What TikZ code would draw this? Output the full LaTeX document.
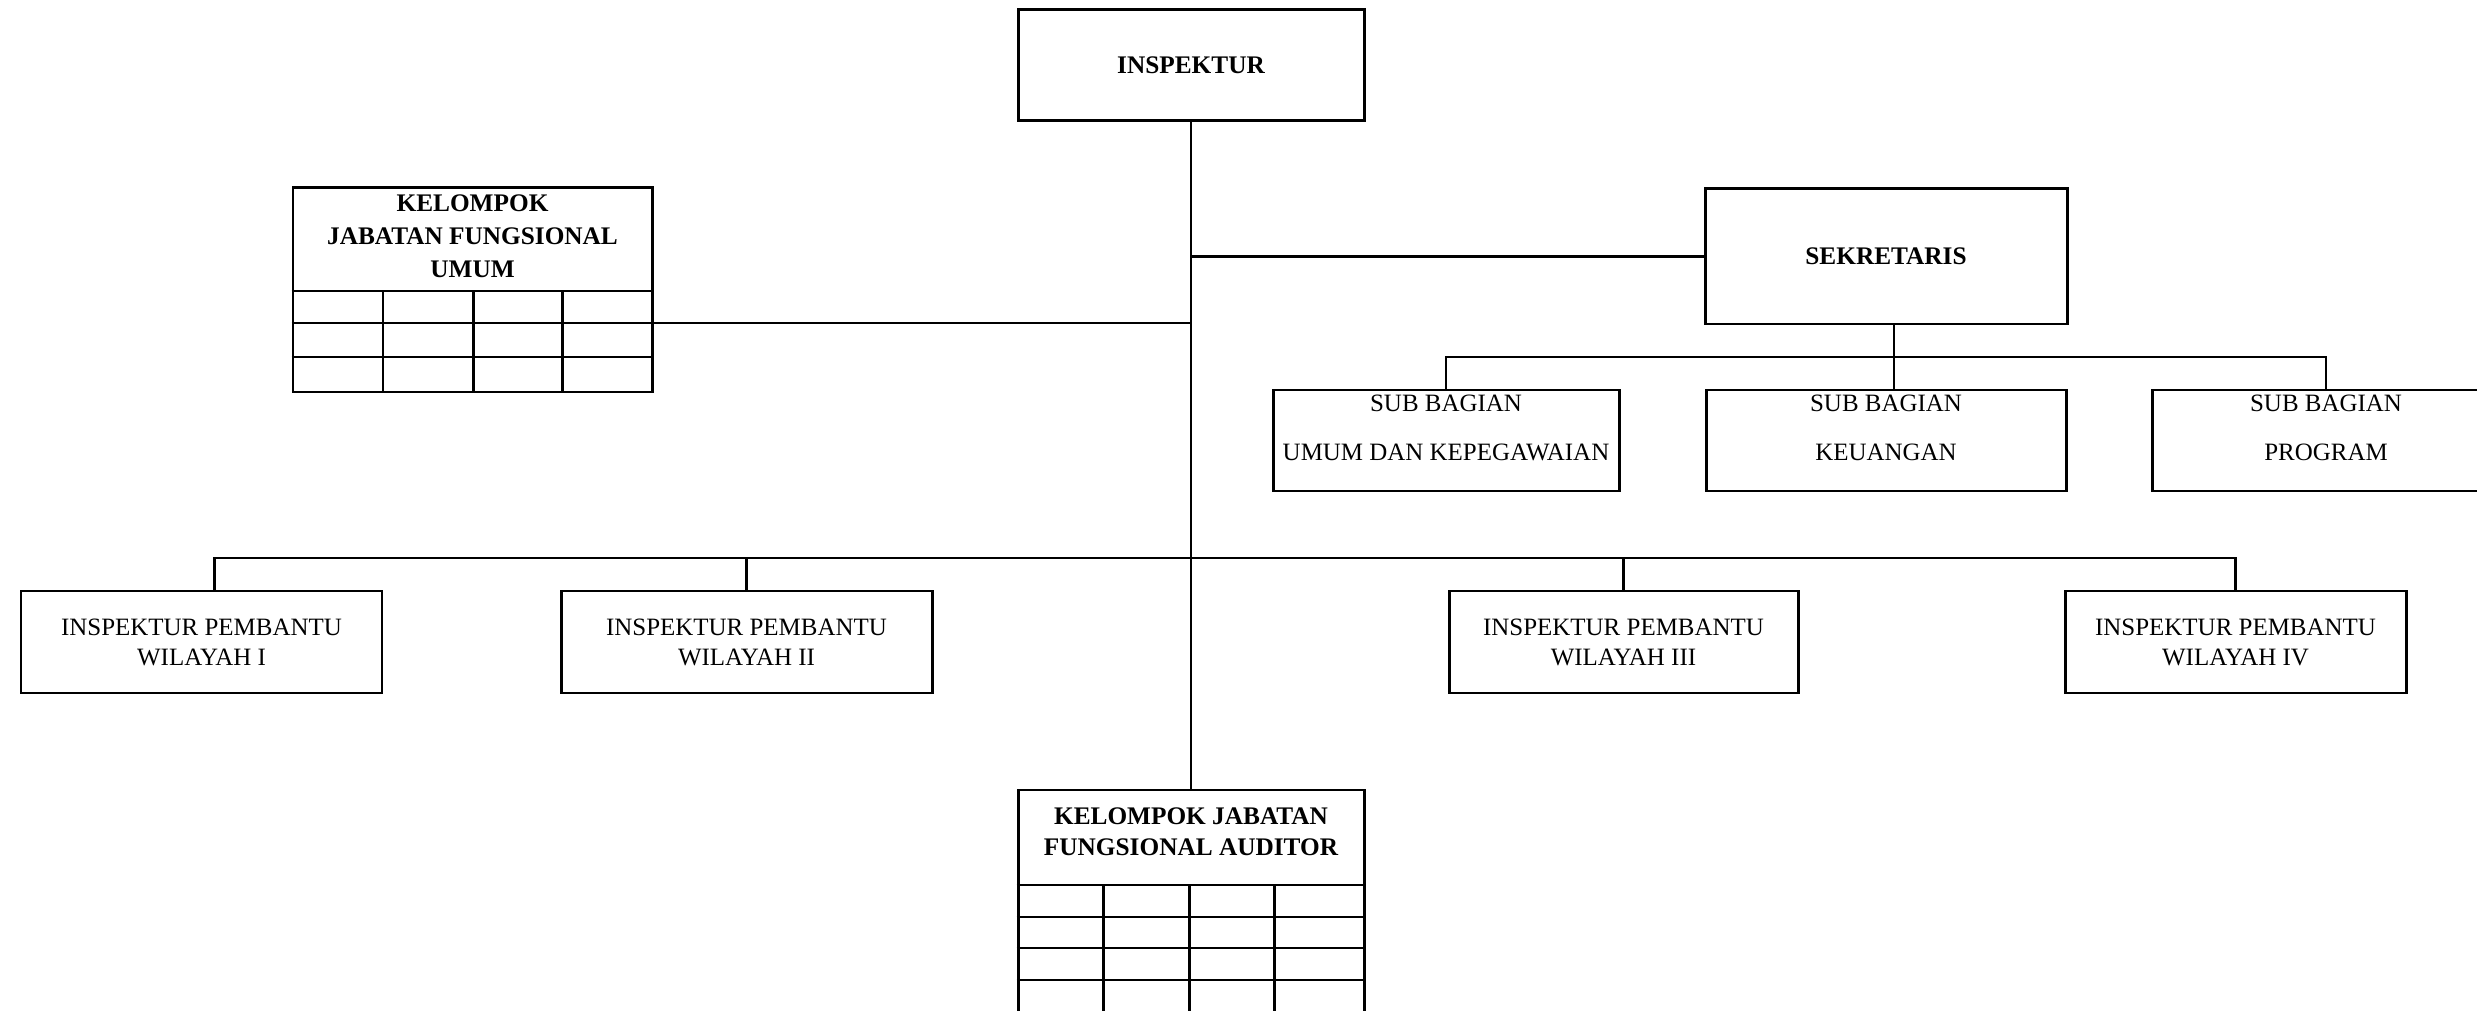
\documentclass[tikz,border=0pt]{standalone}
\usepackage{fontspec}
\setmainfont{Liberation Serif}
\usetikzlibrary{positioning}

\begin{document}
\begin{tikzpicture}[
      box/.style={draw, line width=0.85pt, inner sep=0pt, align=center},
      ttl/.style={font=\fontsize{7.2}{9.6}\selectfont\bfseries,
                  align=center, inner sep=0pt},
      lbl/.style={font=\fontsize{7.1}{8.5}\selectfont,
                  align=center, inner sep=0pt},
      sublbl/.style={font=\fontsize{7.1}{13.9}\selectfont,
                  align=center, inner sep=0pt},
      link/.style={line width=0.6pt},
      cell/.style={line width=0.85pt}
  ]
    \useasboundingbox (0,0) rectangle (24.77,-10.11);

    \node[box, ttl, minimum width=3.46cm, minimum height=1.11cm] (insp) at (11.91,-0.655) {INSPEKTUR};
    \node[box, ttl, minimum width=3.62cm, minimum height=1.35cm] (sek) at (18.86,-2.565) {SEKRETARIS};

    \node[box, minimum width=3.59cm, minimum height=2.04cm] (kjfu) at (4.725,-2.90) {};
    \node[ttl, font=\fontsize{7.2}{9.3}\selectfont\bfseries, below=0.08cm of kjfu.north] (kjfut) {KELOMPOK\\JABATAN FUNGSIONAL\\UMUM};
    \foreach \y in {-2.91,-3.23,-3.57}
      \draw[cell] (kjfu.west |- 0,\y) -- (kjfu.east |- 0,\y);
    \foreach \x in {3.83,4.73,5.62}
      \draw[cell] (\x,-2.91) -- (kjfu.south -| \x,0);

    \node[box, minimum width=3.46cm, minimum height=1.01cm] (sb1) at (14.46,-4.405) {};
    \node[box, minimum width=3.60cm, minimum height=1.01cm] (sb2) at (18.86,-4.405) {};
    \node[box, minimum width=3.48cm, minimum height=1.01cm] (sb3) at (23.26,-4.405) {};
    \node[sublbl, below=0.06cm of sb1.north] (sb1t) {SUB BAGIAN\\UMUM DAN KEPEGAWAIAN};
    \node[sublbl, below=0.06cm of sb2.north] (sb2t) {SUB BAGIAN\\KEUANGAN};
    \node[sublbl, below=0.06cm of sb3.north] (sb3t) {SUB BAGIAN\\PROGRAM};

    \node[box, lbl, minimum width=3.61cm, minimum height=1.02cm] (ip1) at (2.015,-6.42) {INSPEKTUR PEMBANTU\\WILAYAH I};
    \node[box, lbl, minimum width=3.71cm, minimum height=1.02cm] (ip2) at (7.465,-6.42) {INSPEKTUR PEMBANTU\\WILAYAH II};
    \node[box, lbl, minimum width=3.49cm, minimum height=1.02cm] (ip3) at (16.235,-6.42) {INSPEKTUR PEMBANTU\\WILAYAH III};
    \node[box, lbl, minimum width=3.41cm, minimum height=1.02cm] (ip4) at (22.355,-6.42) {INSPEKTUR PEMBANTU\\WILAYAH IV};

    \node[box, minimum width=3.46cm, minimum height=2.25cm] (aud) at (11.91,-9.025) {};
    \node[ttl, font=\fontsize{7.2}{8.8}\selectfont\bfseries, below=0.19cm of aud.north] (audt) {KELOMPOK JABATAN\\FUNGSIONAL AUDITOR};
    \foreach \y in {-8.85,-9.17,-9.48,-9.80}
      \draw[cell] (aud.west |- 0,\y) -- (aud.east |- 0,\y);
    \foreach \x in {11.03,11.89,12.74}
      \draw[cell] (\x,-8.85) -- (aud.south -| \x,0);

    \coordinate (armU) at (insp.south |- 0,-3.23);
    \coordinate (busSb) at (0,-3.57);
    \coordinate (busIp) at (0,-5.58);
    \coordinate (drop1) at ([xshift=0.13cm]ip1.north);
    \coordinate (dropS) at ([xshift=0.08cm]sek.south);

    \draw[link] (insp.south) -- (aud.north);
    \draw[link] (kjfu.east |- armU) -- (armU);
    \draw[link] (sek.west) -- (sek.west -| insp.south);
    \draw[link] (dropS) -- (dropS |- sb2.north);
    \draw[link] (sb1.north) -- (sb1.north |- busSb) -- (sb3.north |- busSb) -- (sb3.north);
    \draw[link] (drop1) -- (drop1 |- busIp) -- (ip4.north |- busIp) -- (ip4.north);
    \foreach \n in {ip2,ip3}
      \draw[link] (\n.north) -- (\n.north |- busIp);
\end{tikzpicture}
\end{document}
